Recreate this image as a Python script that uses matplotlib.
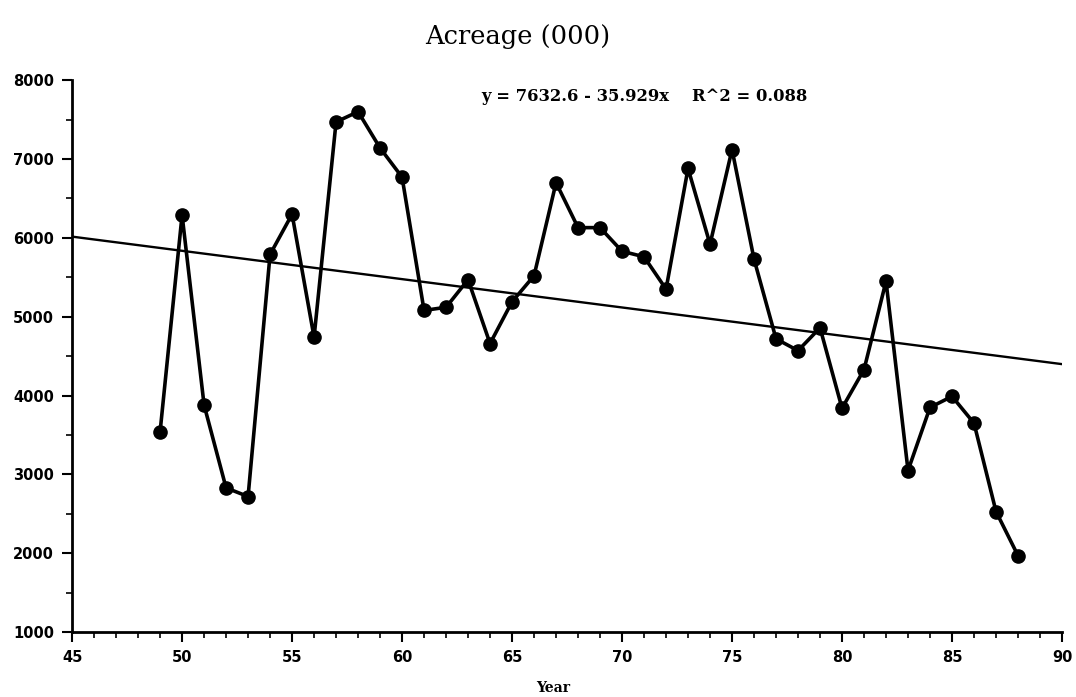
# -*- coding: utf-8 -*-
"""Acreage (000) by year with fitted trend line."""

import matplotlib
matplotlib.use("Agg")
import matplotlib.pyplot as plt
from matplotlib.ticker import MultipleLocator

years = [49, 50, 51, 52, 53, 54, 55, 56, 57, 58,
         59, 60, 61, 62, 63, 64, 65, 66, 67, 68,
         69, 70, 71, 72, 73, 74, 75, 76, 77, 78,
         79, 80, 81, 82, 83, 84, 85, 86, 87, 88]
acreage = [3540, 6290, 3880, 2830, 2720, 5790, 6300, 4740, 7470, 7600,
           7140, 6770, 5080, 5120, 5470, 4660, 5190, 5520, 6700, 6130,
           6130, 5830, 5760, 5350, 6880, 5920, 7120, 5730, 4720, 4570,
           4860, 3840, 4330, 5450, 3050, 3850, 3990, 3650, 2530, 1970]

fit_intercept = 7632.6
fit_slope = -35.929
fit_r2 = 0.088
fit_x = [45, 90]

x_ticks = [45, 50, 55, 60, 65, 70, 75, 80, 85, 90]
y_ticks = [1000, 2000, 3000, 4000, 5000, 6000, 7000, 8000]

plt.rcParams["font.family"] = ["DejaVu Sans"]

fig = plt.figure(figsize=(10.76, 6.97), dpi=100)
ax = fig.add_axes([0.067, 0.093, 0.92, 0.792])

ax.plot(years, acreage, color="black", linewidth=2.6, marker="o",
        markersize=9.5, zorder=3)
fit_y = [fit_intercept + fit_slope * x for x in fit_x]
ax.plot(fit_x, fit_y, color="black", linewidth=1.7, zorder=2)

ax.set_xlim(45, 90)
ax.set_ylim(1000, 8000)
ax.set_xticks(x_ticks)
ax.set_yticks(y_ticks)
ax.xaxis.set_minor_locator(MultipleLocator(1))
ax.yaxis.set_minor_locator(MultipleLocator(500))

for side in ("top", "right"):
    ax.spines[side].set_visible(False)
for side in ("left", "bottom"):
    ax.spines[side].set_linewidth(2)

ax.tick_params(axis="both", which="major", direction="out", length=7,
               width=1.5, labelsize=10.5, pad=6)
ax.tick_params(axis="both", which="minor", direction="out", length=4,
               width=1.2)
for lbl in ax.get_xticklabels() + ax.get_yticklabels():
    lbl.set_fontweight("bold")

fig.text(0.481, 0.948, "Acreage (000)", ha="center", va="center",
         family="DejaVu Serif", fontsize=18.5)
ax.text(0.578, 0.97, f"y = {fit_intercept} - {abs(fit_slope)}x    R^2 = {fit_r2}",
        transform=ax.transAxes, ha="center", va="center",
        family="DejaVu Serif", fontweight="bold", fontsize=11.8)
fig.text(0.514, 0.013, "Year", ha="center", va="center",
         family="DejaVu Serif", fontweight="bold", fontsize=10)

fig.savefig("out.png", dpi=100)
plt.close(fig)
